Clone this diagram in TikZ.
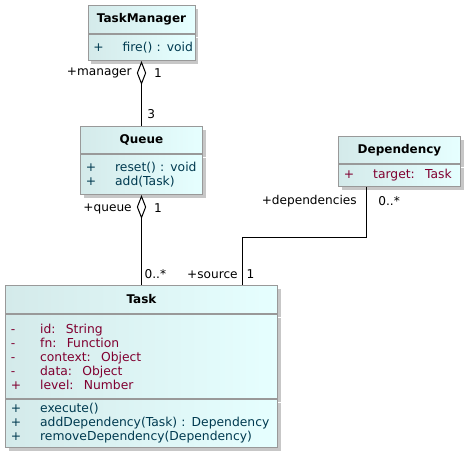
\documentclass[tikz,border=0pt]{standalone}
\usepackage{fontspec}
\setmainfont{DejaVu Sans}
\usetikzlibrary{positioning,shadows,arrows.meta}
\definecolor{clsleft}{HTML}{D4EAEA}
\definecolor{clsright}{HTML}{E6FFFF}
\definecolor{clsline}{HTML}{999999}
\definecolor{attrcol}{HTML}{800030}
\definecolor{opcol}{HTML}{003A50}
\newcommand{\mem}[2]{\makebox[22pt][l]{#1}\mbox{#2}}

\begin{document}
\begin{tikzpicture}[x=0.75pt,y=-0.75pt,
head/.style={
rectangle,
draw=clsline,
line width=0.75pt,
left color=clsleft,right color=clsright,
drop shadow={shadow xshift=2.25pt,shadow yshift=-2.25pt,fill=black!22,opacity=1},
font=\fontsize{9}{10.5}\selectfont\bfseries,
inner sep=0pt,
anchor=north west
},
part/.style={
rectangle,
draw=clsline,
line width=0.75pt,
left color=clsleft,right color=clsright,
drop shadow={shadow xshift=2.25pt,shadow yshift=-2.25pt,fill=black!22,opacity=1},
font=\fontsize{9.25}{10.5}\selectfont,
align=left,
inner xsep=4pt,inner ysep=0pt
},
assoc/.style={draw=black,line width=0.75pt},
lbl/.style={inner sep=0pt,font=\fontsize{9.1}{10}\selectfont}]

\useasboundingbox (0,0) rectangle (470,457);

\node (tmhead) [head,minimum width=80.25pt,minimum height=21pt] at (87.5,5) {TaskManager};
\node (tmbody) [part,text width=72.25pt,minimum height=19.5pt,text=opcol,below=0pt of tmhead] {\mem{+}{fire() : void}};

\node (qhead) [head,minimum width=91.5pt,minimum height=20.25pt] at (80,126) {Queue};
\node (qbody) [part,text width=83.5pt,minimum height=30pt,text=opcol,below=0pt of qhead] {\mem{+}{reset() : void}\\\mem{+}{add(Task)}};

\node (dhead) [head,minimum width=91.5pt,minimum height=20.25pt] at (338,136) {Dependency};
\node (dbody) [part,text width=83.5pt,minimum height=16.5pt,text=attrcol,below=0pt of dhead] {\mem{+}{target:~ Task}};

\node (thead) [head,minimum width=204pt,minimum height=21pt] at (5,285) {Task};
\node (tattr) [part,text width=196pt,minimum height=63pt,text=attrcol,below=0pt of thead] {\mem{-}{id:~ String}\\\mem{-}{fn:~ Function}\\\mem{-}{context:~ Object}\\\mem{-}{data:~ Object}\\\mem{+}{level:~ Number}\\[-4pt]};
\node (tops) [part,text width=196pt,minimum height=36pt,text=opcol,below=0pt of tattr] {\mem{+}{execute()}\\\mem{+}{addDependency(Task) : Dependency}\\\mem{+}{removeDependency(Dependency)}};

\draw[assoc,{Diamond[open,fill=white,length=18pt,width=7pt]}-] (tmbody.south) -- node[lbl,pos=.19,left=7pt]{+manager} node[lbl,pos=.19,right=9pt]{1} node[lbl,pos=.82,right=4pt]{3} (qhead.north);
\draw[assoc,{Diamond[open,fill=white,length=18pt,width=7pt]}-] (qbody.south) -- node[lbl,pos=.15,left=7pt]{+queue} node[lbl,pos=.15,right=9pt]{1} node[lbl,pos=.88,right=2pt]{0..*} (thead.north);
\draw[assoc] ([xshift=-24.75pt]dbody.south) -- node[lbl,pos=.28,left=7pt]{+dependencies} node[lbl,pos=.28,right=8.5pt]{0..*} ++(0,50) -| node[lbl,pos=.89,left=3.5pt]{+source} node[lbl,pos=.89,right=2.5pt]{1} ([xshift=76pt]thead.north);
\end{tikzpicture}
\end{document}
